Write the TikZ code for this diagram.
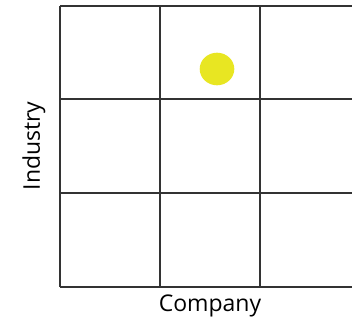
\documentclass[tikz,border=0pt]{standalone}
\usepackage{fontspec}
\setmainfont{Open Sans}
\definecolor{dotyellow}{HTML}{E8E622}
\definecolor{gridgray}{HTML}{333333}

\begin{document}
\begin{tikzpicture}[x=1pt, y=-1pt, every node/.style={font=\fontsize{23}{26}\selectfont}, gridline/.style={gridgray, line width=1.8pt}]
	\useasboundingbox (0,0) rectangle (352,321);
	\foreach \gx in {60,160,260} {\draw[gridline] (\gx,5.7) -- (\gx,287.3);}
	\foreach \gy in {5.7,99.3,193.3,287.3} {\draw[gridline] (60,\gy) -- (352,\gy);}
	\fill[dotyellow] (217,69) ellipse (17.3 and 16.3);
	\node[rotate=90] (industry) at (34,146) {Industry};
	\node (company) at (210,306) {Company};
\end{tikzpicture}
\end{document}
